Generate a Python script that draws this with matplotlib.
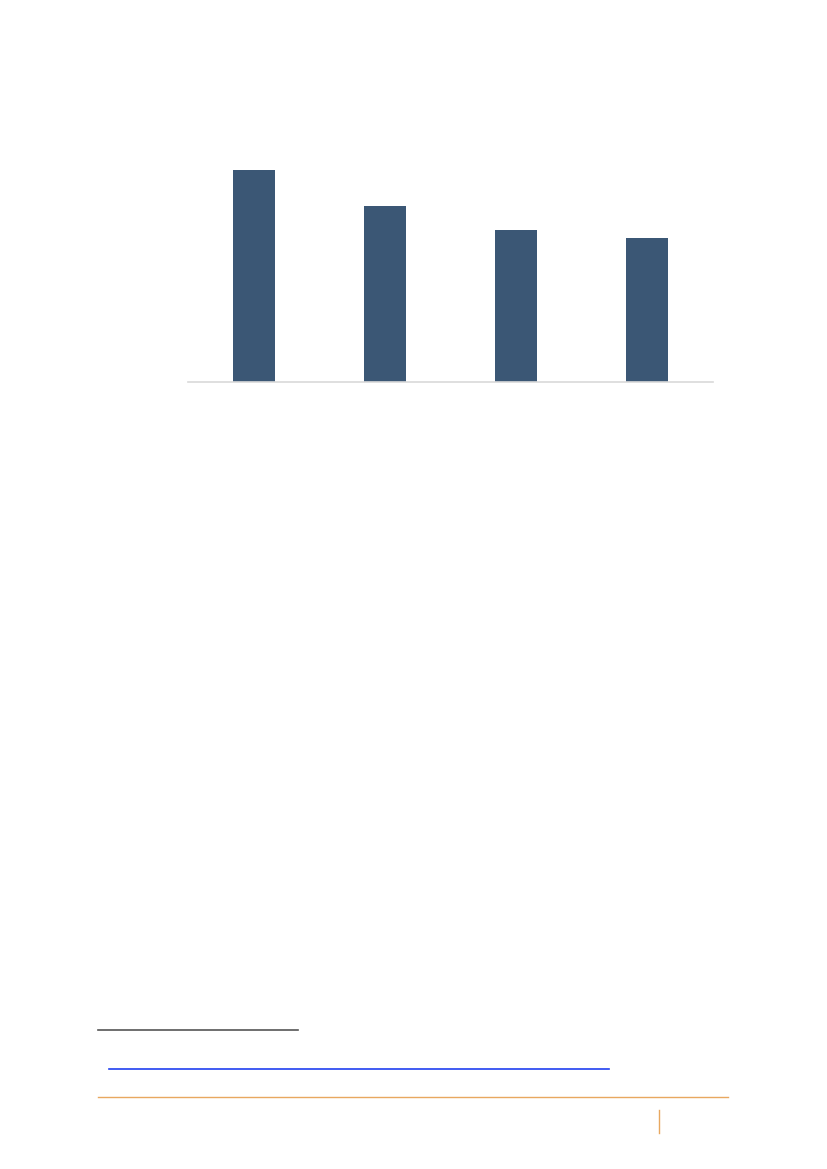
import matplotlib
matplotlib.use("Agg")
import matplotlib.pyplot as plt
from matplotlib.lines import Line2D

# bar chart data (no labels shown on the page)
categories = ["A", "B", "C", "D"]
values = [5.3, 4.4, 3.8, 3.6]

BAR_COLOR = "#3b5775"
W, H = 827, 1169

fig = plt.figure(figsize=(W / 100, H / 100), dpi=100)
fig.patch.set_facecolor("white")

# axes placed where the chart sits on the page
ax = fig.add_axes([188 / W, 1 - 382 / H, 525 / W, 232 / H])
ax.bar(range(len(categories)), values, width=0.32, color=BAR_COLOR, zorder=2)
ax.set_xlim(-0.5, len(categories) - 0.5)
ax.set_ylim(0, 5.8)

for side in ["top", "right", "left"]:
    ax.spines[side].set_visible(False)
ax.spines["bottom"].set_color("#d9d9d9")
ax.spines["bottom"].set_linewidth(1.2)
ax.set_xticks([])
ax.set_yticks([])
ax.patch.set_alpha(0)


def hline(x0, x1, y, color, lw):
    fig.add_artist(Line2D([x0 / W, x1 / W], [1 - y / H, 1 - y / H],
                          color=color, linewidth=lw, transform=fig.transFigure))


# footnote separator, link underline, footer rule
hline(98, 298, 1030, "#555555", 1.2)
hline(109, 609, 1069, "#2040f0", 1.2)
hline(98, 728, 1097, "#e8a860", 1.0)
fig.add_artist(Line2D([659 / W, 659 / W], [1 - 1110 / H, 1 - 1133 / H],
                      color="#e8a860", linewidth=1.0, transform=fig.transFigure))

fig.savefig("out.png", dpi=100, facecolor="white")
